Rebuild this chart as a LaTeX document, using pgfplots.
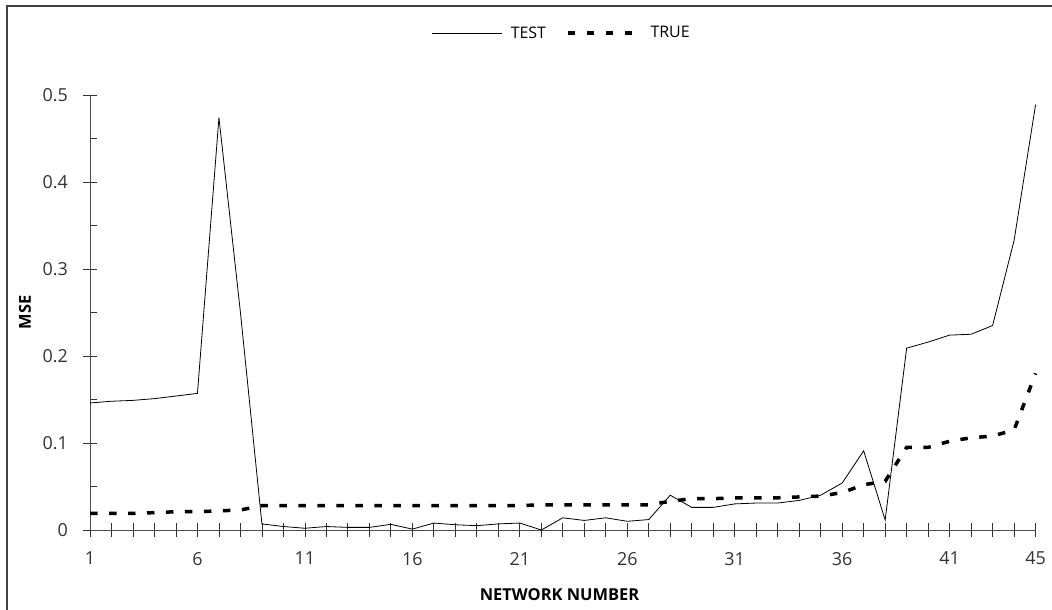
\documentclass[border=0pt]{standalone}
\usepackage{fontspec}
\setmainfont{Open Sans}
\usepackage{pgfplots}
\pgfplotsset{compat=1.18}

% MSE per network: test error and true error
\pgfplotstableread{
n    test    true
1    0.146   0.019
2    0.148   0.019
3    0.149   0.019
4    0.151   0.020
5    0.154   0.021
6    0.157   0.021
7    0.474   0.022
8    0.250   0.023
9    0.007   0.028
10   0.004   0.028
11   0.002   0.028
12   0.004   0.028
13   0.003   0.028
14   0.003   0.028
15   0.0065  0.028
16   0.001   0.028
17   0.008   0.028
18   0.006   0.028
19   0.005   0.028
20   0.007   0.028
21   0.008   0.028
22   0.000   0.029
23   0.014   0.029
24   0.011   0.029
25   0.014   0.029
26   0.010   0.029
27   0.012   0.029
28   0.040   0.033
29   0.026   0.036
30   0.026   0.036
31   0.030   0.037
32   0.031   0.037
33   0.031   0.037
34   0.034   0.038
35   0.040   0.039
36   0.054   0.043
37   0.091   0.052
38   0.0115  0.056
39   0.209   0.095
40   0.216   0.095
41   0.224   0.102
42   0.225   0.106
43   0.235   0.108
44   0.333   0.115
45   0.489   0.180
}\mse

\tikzset{
  testline/.style={black, line width=0.8bp},
  trueline/.style={black, line width=3.5bp, dash pattern=on 7.5bp off 11.5bp},
}

\begin{document}
\begin{tikzpicture}
\useasboundingbox (0,0) rectangle (1052bp,610bp);
% outer frame
\draw[line width=1.3bp, black!75] (7bp,0) -- (7bp,604bp) -- (1052bp,604bp);
\begin{axis}[
  at={(90bp,80bp)}, anchor=south west,
  width=945.6bp, height=435bp, scale only axis,
  xmin=1, xmax=45, ymin=0, ymax=0.5,
  axis x line=bottom, axis y line=left,
  axis line style={-, black!70, line width=0.9bp},
  clip=false,
  font=\fontsize{18}{21}\selectfont,
  /pgf/number format/assume math mode=true,
  tick align=center,
  major tick length=13bp,
  minor tick length=7bp,
  tick style={black!80, line width=0.8bp},
  xtick={1,...,45},
  xticklabels={1,,,,,6,,,,,11,,,,,16,,,,,21,,,,,26,,,,,31,,,,,36,,,,,41,,,,\raisebox{-3bp}{45}},
  xticklabel style={yshift=-12bp, text=black!80},
  ytick={0,0.1,...,0.5},
  yticklabels={0,0.1,0.2,0.3,0.4,0.5},
  minor y tick num=1,
  minor y tick style={xshift=3.5bp},
  yticklabel style={xshift=-12bp, text=black!80},
  xlabel={\fontsize{16.5}{20}\selectfont\bfseries NETWORK NUMBER},
  ylabel={\fontsize{16.5}{20}\selectfont\bfseries MSE},
  every axis x label/.style={at={(axis description cs:0.4965,-0.149)}, anchor=center},
  every axis y label/.style={at={(axis description cs:-0.0687,0.5)}, anchor=center, rotate=90},
  legend style={at={(axis description cs:0.499,1.1425)}, anchor=center, draw=none,
    legend columns=2, fill=none, font=\fontsize{16}{19}\selectfont,
    /tikz/every odd column/.append style={column sep=6bp},
    /tikz/every even column/.append style={column sep=18bp}},
  legend cell align=left,
]
\addplot[testline,
  legend image code/.code={\draw[testline] (0,0) -- (70bp,0);}]
  table[x=n, y=test] {\mse};
\addlegendentry{TEST}
\addplot[trueline,
  legend image code/.code={\draw[trueline] (0,0) -- (73bp,0);}]
  table[x=n, y=true] {\mse};
\addlegendentry{TRUE}
\end{axis}
\end{tikzpicture}
\end{document}
